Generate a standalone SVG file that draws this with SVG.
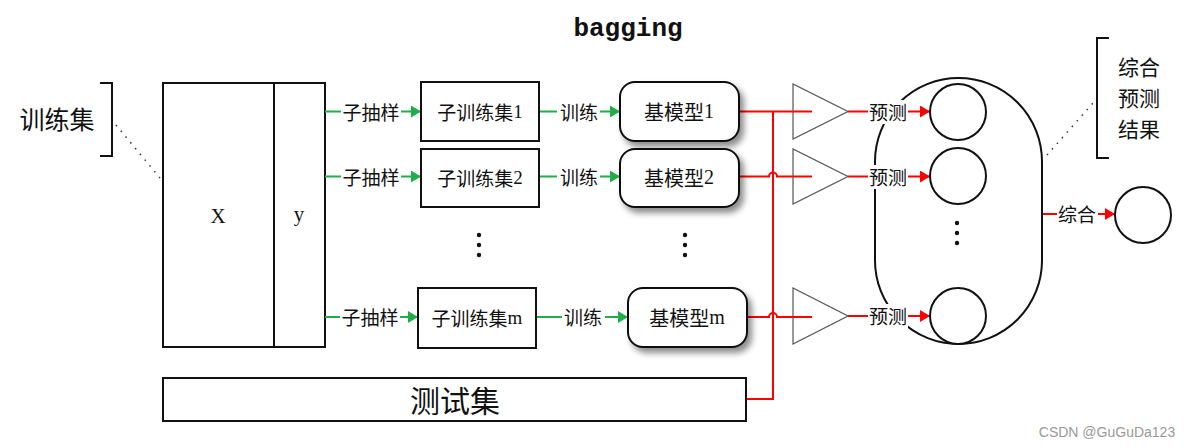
<svg xmlns="http://www.w3.org/2000/svg" width="1191" height="448" viewBox="0 0 1191 448">
<style>
text{font-family:"Noto Sans CJK SC","Liberation Sans",sans-serif;fill:#111;text-anchor:middle;dominant-baseline:central}
.box{fill:#fff;stroke:#111;stroke-width:2}
.g{stroke:#1fae4a;stroke-width:2;fill:none}
.r{stroke:#ff0000;stroke-width:2;fill:none}
.tri{fill:#fff;stroke:#555;stroke-width:1.2}
.circ{fill:#fff;stroke:#111;stroke-width:2}
.lab{font-size:19px}
.bg{fill:#fff}
.dot{fill:#111}
.dotted{stroke:#333;stroke-width:1.5;stroke-dasharray:1.5,6;fill:none}
.serif{font-family:"Liberation Serif","Noto Sans CJK SC",serif}
.res{font-size:21px}
</style>
<defs>
<marker id="ag" markerWidth="10" markerHeight="12" refX="10" refY="6" orient="auto" markerUnits="userSpaceOnUse"><path d="M0,0 L10,6 L0,12 Z" fill="#1fae4a"/></marker>
<marker id="ar" markerWidth="10" markerHeight="12" refX="10" refY="6" orient="auto" markerUnits="userSpaceOnUse"><path d="M0,0 L10,6 L0,12 Z" fill="#ff0000"/></marker>
<filter id="sh" x="-20%" y="-20%" width="140%" height="150%"><feDropShadow dx="4" dy="5" stdDeviation="3" flood-color="#000" flood-opacity="0.45"/></filter>
</defs>

<text x="628" y="29" style="font-family:'Liberation Mono',monospace;font-size:26px;font-weight:bold">bagging</text>

<g id="train-set-label">
<text x="57" y="118" style="font-size:25px">训练集</text>
<path d="M100,83 H112 V156 H100" fill="none" stroke="#111" stroke-width="2"/>
<path class="dotted" d="M116,125 L160,178"/>
</g>

<g id="xy-box">
<rect class="box" x="163" y="83" width="162" height="264"/>
<line x1="274" y1="83" x2="274" y2="347" stroke="#111" stroke-width="2"/>
<text class="serif" x="218" y="216" style="font-size:21px">X</text>
<text class="serif" x="299" y="214" style="font-size:21px">y</text>
</g>

<g id="connectors">
<line class="g" x1="325" y1="111.5" x2="421" y2="111.5" marker-end="url(#ag)"/>
<line class="g" x1="325" y1="176.5" x2="421" y2="176.5" marker-end="url(#ag)"/>
<line class="g" x1="325" y1="317" x2="418" y2="317" marker-end="url(#ag)"/>
<line class="g" x1="539" y1="111.5" x2="620" y2="111.5" marker-end="url(#ag)"/>
<line class="g" x1="539" y1="176.5" x2="620" y2="176.5" marker-end="url(#ag)"/>
<line class="g" x1="536" y1="317" x2="628" y2="317" marker-end="url(#ag)"/>
<path class="r" d="M739,111.5 H812"/>
<path class="r" d="M739,176.5 H769 A4,4 0 0 1 777,176.5 H812"/>
<path class="r" d="M747,317 H769 A4,4 0 0 1 777,317 H812"/>
<path class="r" d="M773,111.5 V399 H746"/>
<line class="r" x1="848" y1="111.5" x2="930" y2="111.5" marker-end="url(#ar)"/>
<line class="r" x1="848" y1="176.5" x2="930" y2="176.5" marker-end="url(#ar)"/>
<line class="r" x1="848" y1="316" x2="930" y2="316" marker-end="url(#ar)"/>
<line class="r" x1="1042" y1="214" x2="1115" y2="214" marker-end="url(#ar)"/>
<rect class="bg" x="341" y="100" width="60" height="24"/><text class="lab" x="371" y="111">子抽样</text>
<rect class="bg" x="341" y="165" width="60" height="24"/><text class="lab" x="371" y="176">子抽样</text>
<rect class="bg" x="340" y="305" width="60" height="24"/><text class="lab" x="370" y="316">子抽样</text>
<rect class="bg" x="557" y="100" width="43" height="24"/><text class="lab" x="579" y="111">训练</text>
<rect class="bg" x="557" y="165" width="43" height="24"/><text class="lab" x="579" y="176">训练</text>
<rect class="bg" x="562" y="305" width="43" height="24"/><text class="lab" x="583" y="316">训练</text>
</g>

<g id="sub1"><rect class="box" x="421" y="82" width="118" height="59"/><text x="480" y="111" style="font-size:19px">子训练集<tspan class="serif">1</tspan></text></g>
<g id="sub2"><rect class="box" x="421" y="149" width="118" height="58"/><text x="480" y="177" style="font-size:19px">子训练集<tspan class="serif">2</tspan></text></g>
<g id="subm"><rect class="box" x="418" y="288" width="118" height="60"/><text x="477" y="317" style="font-size:19px">子训练集<tspan class="serif">m</tspan></text></g>

<g id="dots-mid">
<circle class="dot" cx="479" cy="235" r="2.2"/><circle class="dot" cx="479" cy="245" r="2.2"/><circle class="dot" cx="479" cy="255" r="2.2"/>
<circle class="dot" cx="685" cy="235" r="2.2"/><circle class="dot" cx="685" cy="245" r="2.2"/><circle class="dot" cx="685" cy="255" r="2.2"/>
</g>

<g id="model1"><rect class="box" x="620" y="82" width="119" height="59" rx="15" filter="url(#sh)"/><text x="679" y="111" style="font-size:20px">基模型<tspan class="serif">1</tspan></text></g>
<g id="model2"><rect class="box" x="620" y="149" width="119" height="58" rx="15" filter="url(#sh)"/><text x="679" y="177" style="font-size:20px">基模型<tspan class="serif">2</tspan></text></g>
<g id="modelm"><rect class="box" x="628" y="288" width="119" height="59" rx="15" filter="url(#sh)"/><text x="687" y="317" style="font-size:20px">基模型<tspan class="serif">m</tspan></text></g>

<g id="test-set"><rect class="box" x="163" y="378" width="583" height="43"/><text x="455" y="399" style="font-size:30px">测试集</text></g>

<g id="triangles">
<path class="tri" d="M793,84 V139 L848,111.5 Z"/>
<path class="tri" d="M793,149 V204 L848,176.5 Z"/>
<path class="tri" d="M793,288 V344 L848,316 Z"/>
<path class="r" d="M793,111.5 H812 M793,176.5 H812 M793,317 H812"/>
</g>

<g id="ensemble">
<path d="M875,161.5 A83.5,83.5 0 0 1 1042,161.5 V260.5 A83.5,83.5 0 0 1 875,260.5 Z" fill="none" stroke="#111" stroke-width="2"/>
<circle class="circ" cx="958" cy="112" r="28"/>
<circle class="circ" cx="958" cy="176" r="28"/>
<circle class="circ" cx="958" cy="316" r="28"/>
<circle class="dot" cx="957" cy="223" r="2.2"/><circle class="dot" cx="957" cy="233" r="2.2"/><circle class="dot" cx="957" cy="243" r="2.2"/>
</g>

<g id="pred-labels">
<rect class="bg" x="868" y="100" width="40" height="24"/><text class="lab" x="888" y="111">预测</text>
<rect class="bg" x="868" y="165" width="40" height="24"/><text class="lab" x="888" y="176">预测</text>
<rect class="bg" x="868" y="304" width="40" height="24"/><text class="lab" x="888" y="315">预测</text>
<rect class="bg" x="1057" y="202" width="41" height="24"/><text class="lab" x="1077" y="213">综合</text>
</g>

<g id="final"><circle class="circ" cx="1143" cy="215" r="28"/></g>

<g id="result-label">
<path d="M1109,38 H1097 V158 H1109" fill="none" stroke="#111" stroke-width="2"/>
<path class="dotted" d="M1047,155 L1093,103"/>
<text class="res" x="1139" y="66">综合</text>
<text class="res" x="1139" y="97">预测</text>
<text class="res" x="1139" y="128">结果</text>
</g>

<text x="1107" y="432" style="font-family:'Liberation Sans',sans-serif;font-size:14px;fill:#999">CSDN @GuGuDa123</text>
</svg>
